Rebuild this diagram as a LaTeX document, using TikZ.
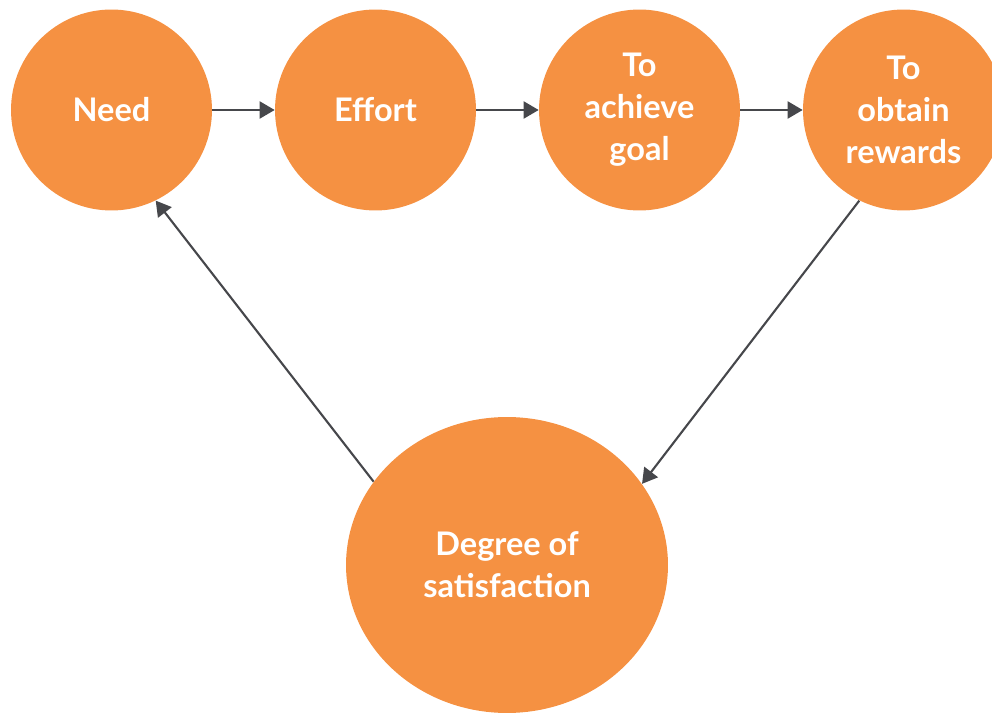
\documentclass[tikz,border=0pt]{standalone}
\usepackage{fontspec}
\setmainfont{Lato}
\usetikzlibrary{arrows.meta,positioning,shapes.geometric}
\definecolor{stepfill}{HTML}{F59142}
\definecolor{linkgray}{HTML}{46474B}

\begin{document}
\begin{tikzpicture}[x=0.02cm,y=-0.02cm,
        stage/.style={circle,fill=stepfill,minimum size=4.02cm,inner sep=0pt,
            text=white,font=\fontsize{18.5}{24}\selectfont\bfseries,align=center},
        link/.style={draw=linkgray,line width=1.2pt,-{Triangle[length=0.3cm,width=0.34cm]}}]
        \useasboundingbox (0,0) rectangle (992,713);
        \node [stage] (need) at (111.5,110) {Need};
        \node [stage] (effort) at (375.5,110) {Effort};
        \node [stage] (goal) at (639.5,110) {To\\achieve\\goal};
        \node [stage] (reward) at (903.5,110) {To\\obtain\\rewards};
        \node [stage,ellipse,minimum width=6.44cm,minimum height=5.92cm] (satisfy) at (507,565) {Degree of\\satisfaction};

        \draw [link] (need) -- (effort);
        \draw [link] (effort) -- (goal);
        \draw [link] (goal) -- (reward);
        \draw [link] (reward.244) -- (satisfy.31.8);
        \draw [link] (satisfy.148.5) -- (need.296);
    \end{tikzpicture}
\end{document}
